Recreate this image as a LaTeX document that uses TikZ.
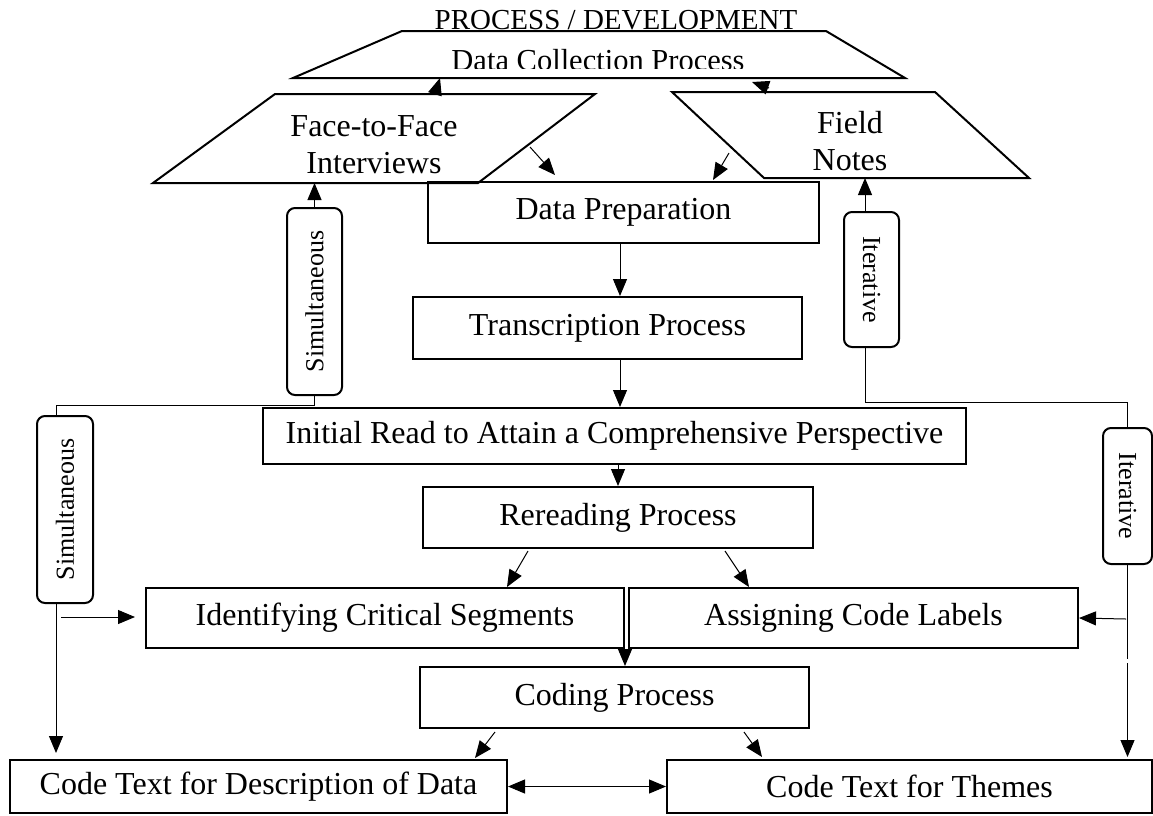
\documentclass[tikz,border=0pt]{standalone}
\usepackage{fontspec}
\setmainfont{Liberation Serif}
\usetikzlibrary{arrows.meta,calc}
\newcommand\mainsz{\fontsize{32}{37}\selectfont}
\newcommand\labsz{\fontsize{26}{30}\selectfont}
\newcommand\titlesz{\fontsize{29}{33}\selectfont}
\newcommand\dcsz{\fontsize{30.5}{35}\selectfont}
\begin{document}
\begin{tikzpicture}[x=1pt,y=-1pt,
  box/.style={draw, line width=2pt, rectangle, inner sep=0pt, font=\mainsz},
  rbox/.style={draw, line width=2pt, rounded corners=8pt, inner sep=0pt, font=\labsz},
  shapeln/.style={draw, line width=2pt, line join=miter},
  link/.style={line width=1pt},
  conn/.style={line width=1pt, -{Triangle[length=17pt,width=14pt]}},
  dconn/.style={line width=1pt, {Triangle[length=17pt,width=14pt]}-{Triangle[length=17pt,width=14pt]}}
]
\useasboundingbox (0,0) rectangle (1153,815);
\fill[white] (0,0) rectangle (1153,815);

% ---- top shapes
\coordinate (dc1) at (402,31);
\coordinate (dc2) at (826,31);
\coordinate (dc3) at (905,78);
\coordinate (dc4) at (293,78);
\draw[shapeln] (dc1) -- (dc2) -- (dc3) -- (dc4) -- cycle;
\node[font=\titlesz, anchor=base, inner sep=0pt] (title) at (616,29) {PROCESS / DEVELOPMENT};
\begin{scope}
  \clip (0,0) rectangle (1153,68);
  \node[font=\dcsz, anchor=base, inner sep=0pt] (dct) at (598,70) {Data Collection Process};
\end{scope}

\coordinate (f1) at (275,94);
\coordinate (f2) at (595,94);
\coordinate (f3) at (478,183);
\coordinate (f4) at (153,183);
\draw[shapeln] (f1) -- (f2) -- (f3) -- (f4) -- cycle;
\node[font=\mainsz, align=center, inner sep=0pt] (ftf) at (374,145) {Face-to-Face\\Interviews};

\coordinate (n1) at (672,92);
\coordinate (n2) at (935,92);
\coordinate (n3) at (1029,178);
\coordinate (n4) at (764,178);
\draw[shapeln] (n1) -- (n2) -- (n3) -- (n4) -- cycle;
\node[font=\mainsz, align=center, inner sep=0pt] (fn) at (850,141) {Field\\Notes};

% ---- boxes
\node[box, minimum width=391pt, minimum height=61pt] (dp) at (623.5,212.5) {Data Preparation};
\node[box, minimum width=389pt, minimum height=62pt] (tp) at (607.5,328) {Transcription Process};
\node[box, minimum width=703pt, minimum height=56pt] (ir) at (614.5,436) {Initial Read to Attain a Comprehensive Perspective};
\node[box, minimum width=390pt, minimum height=61pt] (rr) at (618,517.5) {Rereading Process};
\node[box, minimum width=478pt, minimum height=60pt] (ic) at (385,618) {Identifying Critical Segments};
\node[box, minimum width=449pt, minimum height=60pt] (ac) at (853.5,618) {Assigning Code Labels};
\node[box, minimum width=389pt, minimum height=61pt] (cp) at (614.5,697.5) {Coding Process};
\node[box, minimum width=497pt, minimum height=53pt] (cd) at (258.5,786.5) {Code Text for Description of Data};
\node[box, minimum width=485pt, minimum height=53pt] (ct) at (909.5,786.5) {Code Text for Themes};

% ---- side labels
\node[rbox, rotate=90, minimum width=187pt, minimum height=55pt] (s1) at (314.5,301.5) {Simultaneous};
\node[rbox, rotate=90, minimum width=187pt, minimum height=56pt] (s2) at (65,509.5) {Simultaneous};
\node[rbox, rotate=-90, minimum width=135pt, minimum height=55pt] (i1) at (871.5,279.5) {Iterative};
\node[rbox, rotate=-90, minimum width=136pt, minimum height=49pt] (i2) at (1127.5,496) {Iterative};

% ---- small arrows near the top shapes
\coordinate (a1s) at (435,94);
\coordinate (a1e) at (440,78);
\draw[conn] (a1s) -- (a1e);
\coordinate (a2s) at (769,88);
\coordinate (a2e) at (752,82);
\draw[conn] (a2s) -- (a2e);
\coordinate (a3s) at (530,147);
\coordinate (a3e) at (555,175);
\draw[conn] (a3s) -- (a3e);
\coordinate (a4s) at (729,153);
\coordinate (a4e) at (713,180);
\draw[conn] (a4s) -- (a4e);

% ---- main flow
\draw[conn] ([xshift=-3.5pt]dp.south) -- ([xshift=-3.5pt]dp.south |- tp.north);
\draw[conn] ([xshift=12.5pt]tp.south) -- ([xshift=12.5pt]tp.south |- ir.north);
\draw[conn] (rr.north |- ir.south) -- (rr.north);
\coordinate (b1s) at (528,551);
\coordinate (b1e) at (507,587);
\draw[conn] (b1s) -- (b1e);
\coordinate (b2s) at (725,551);
\coordinate (b2e) at (749,587);
\draw[conn] (b2s) -- (b2e);
\draw[conn] (ic.south east) -- (ic.south east |- cp.north);
\coordinate (c1s) at (495,732);
\coordinate (c1e) at (475,758);
\draw[conn] (c1s) -- (c1e);
\coordinate (c2s) at (744,732);
\coordinate (c2e) at (762,757);
\draw[conn] (c2s) -- (c2e);
\draw[dconn] (cd.east) -- (ct.west);

% ---- left: simultaneous
\draw[conn] (s1.east) -- (s1.east |- f4);
\draw[link] (s1.west) -- ++(0,9) -| ([xshift=-9pt]s2.east);
\draw[conn, shorten >=6pt] ([xshift=-9pt]s2.west) -- ([xshift=-9pt]s2.west |- cd.north);
\coordinate (h1) at (61,617);
\draw[conn, shorten >=10pt] (h1) -- (h1 -| ic.west);

% ---- right: iterative
\draw[conn] ([xshift=-6.5pt]i1.west) -- ([xshift=-6.5pt]i1.west |- n4);
\draw[link] ([xshift=-6.5pt]i1.east) -- ++(0,54) -| (i2.west);
\draw[link] (i2.east) -- ++(0,94);
\draw[conn] ([yshift=-54pt,xshift=-1.5pt]i2.east) -- (ac.east);
\draw[conn, shorten >=2pt] ([yshift=-98pt]i2.east) -- (i2.east |- ct.north);
\end{tikzpicture}
\end{document}
